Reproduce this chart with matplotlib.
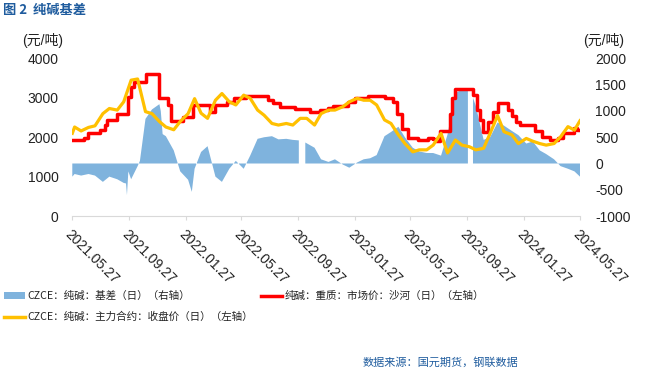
import numpy as np
import pandas as pd
import matplotlib
matplotlib.use("Agg")
import matplotlib.pyplot as plt
from matplotlib.patches import Patch
from matplotlib.lines import Line2D

plt.rcParams['font.family'] = ['Liberation Sans', 'Noto Sans CJK SC', 'DejaVu Sans']
plt.rcParams['axes.unicode_minus'] = False

nan = np.nan

# ---------------- data ----------------
grid_dates = (['2021-05-27'] +
              [d.strftime('%Y-%m-%d') for d in pd.date_range('2021-06-01', '2024-05-15', freq='SMS')] +
              ['2024-05-27'])

# CZCE soda ash main contract close (left axis)
futures_close = [2100, 2260, 2160, 2250, 2290, 2600, 2730, 2690, 2900, 3450, 3480, 2650, 2600, 2400, 2260,
                 2190, 2400, 2600, 2980, 2610, 2480, 2940, 3110, 2900, 2820, 3070, 2990, 2690, 2560, 2350,
                 2310, 2350, 2310, 2480, 2480, 2310, 2600, 2690, 2690, 2775, 2900, 2990, 2940, 2940, 2820,
                 2440, 2350, 2060, 1840, 1630, 1680, 1680, 1800, 2100, 1600, 1930, 1800, 1760, 1680, 1720,
                 2100, 2550, 2140, 2060, 1840, 1970, 1900, 1840, 1800, 1840, 2010, 2270, 2180, 2420]

# Heavy soda ash spot price, Shahe (left axis), step series
spot_dates = ['2021-05-27', '2021-06-22', '2021-06-29', '2021-07-25', '2021-08-05', '2021-08-10', '2021-09-01',
              '2021-09-25', '2021-10-01', '2021-10-08', '2021-11-02', '2021-12-01', '2021-12-20', '2021-12-27',
              '2022-01-21', '2022-02-12', '2022-03-20', '2022-03-31', '2022-04-25', '2022-05-10', '2022-06-07',
              '2022-07-24', '2022-08-04', '2022-08-18', '2022-09-20', '2022-10-22', '2022-11-13', '2022-12-01',
              '2022-12-11', '2023-01-12', '2023-01-27', '2023-02-25', '2023-04-02', '2023-04-20', '2023-04-27',
              '2023-05-08', '2023-05-22', '2023-06-13', '2023-07-04', '2023-07-15', '2023-07-22', '2023-07-29',
              '2023-08-20', '2023-08-24', '2023-08-31', '2023-10-10', '2023-10-17', '2023-10-24', '2023-10-31',
              '2023-11-11', '2023-11-22', '2023-12-03', '2023-12-24', '2024-01-01', '2024-01-10', '2024-01-18',
              '2024-02-20', '2024-03-05', '2024-03-23', '2024-04-10', '2024-04-21', '2024-05-13', '2024-05-20',
              '2024-05-27']
spot_price = [1930, 1990, 2120, 2180, 2310, 2440, 2580, 3030, 3280, 3410, 3600, 3000, 2820, 2410,
              2510, 2830, 2650, 2830, 2900, 2990, 3050, 2950, 2860, 2775, 2716, 2650, 2690, 2733,
              2800, 2900, 2990, 3040, 2990, 2900, 2600, 2200, 1970, 1930, 1990, 1950, 1900, 2160,
              2600, 3000, 3220, 3070, 2690, 2440, 2140, 2390, 2650, 2880, 2700, 2550, 2400, 2300,
              2160, 2010, 1930, 1990, 2115, 2240, 2180, 2180]

# Basis (right axis)
basis_dates = ['2021-05-27', '2021-06-01', '2021-06-15', '2021-07-01', '2021-07-15', '2021-08-01', '2021-08-15',
               '2021-09-01', '2021-09-15', '2021-09-20', '2021-09-22', '2021-09-25', '2021-10-01', '2021-10-15',
               '2021-10-20', '2021-11-01', '2021-11-15', '2021-12-01', '2021-12-04', '2021-12-08', '2021-12-15',
               '2022-01-01', '2022-01-15', '2022-02-01', '2022-02-09', '2022-02-15', '2022-03-01', '2022-03-15',
               '2022-04-01', '2022-04-15', '2022-05-01', '2022-05-15', '2022-06-01', '2022-06-15', '2022-07-01',
               '2022-07-15', '2022-08-01', '2022-08-15', '2022-09-01', '2022-09-15', '2022-09-28', '2022-10-05',
               '2022-10-12', '2022-11-01', '2022-11-15', '2022-12-01', '2022-12-15', '2023-01-01', '2023-01-15',
               '2023-02-01', '2023-02-15', '2023-03-01', '2023-03-15', '2023-04-01', '2023-04-15', '2023-05-01',
               '2023-05-15', '2023-06-01', '2023-06-15', '2023-07-01', '2023-07-15', '2023-08-01', '2023-08-15',
               '2023-09-01', '2023-09-15', '2023-09-28', '2023-10-03', '2023-10-09', '2023-10-15', '2023-11-01',
               '2023-11-15', '2023-12-01', '2023-12-15', '2024-01-01', '2024-01-15', '2024-02-01', '2024-02-15',
               '2024-03-01', '2024-03-15', '2024-04-01', '2024-04-15', '2024-05-01', '2024-05-15', '2024-05-27']
basis_vals = [-250, -200, -230, -200, -230, -350, -250, -300, -370, -380, -600, -150, -300, -50,
              50, 850, 1030, 1130, 1000, 560, 520, 250, -150, -310, -540, -100, 220, 330,
              -250, -350, -100, 50, -100, 150, 470, 500, 520, 460, 470, 450, 440, nan,
              400, 300, 80, 30, 80, -20, -80, 20, 80, 100, 160, 520, 600, 700,
              500, 300, 230, 200, 200, 150, 550, 1350, 1400, 1400, nan, 1250, 1100, 450,
              500, 780, 720, 620, 540, 380, 420, 250, 180, 80, -50, -100, -150, -250]

tick_dates = ['2021-05-27', '2021-09-27', '2022-01-27', '2022-05-27', '2022-09-27',
              '2023-01-27', '2023-05-27', '2023-09-27', '2024-01-27', '2024-05-27']
tick_labels = [d.replace('-', '.') for d in tick_dates]

left_ticks = [0, 1000, 2000, 3000, 4000]
right_ticks = [-1000, -500, 0, 500, 1000, 1500, 2000]

# ---------------- figure ----------------
W, H = 650, 372
fig = plt.figure(figsize=(W / 100, H / 100), dpi=100)
ax = fig.add_axes([72.3 / W, 1 - 216 / H, (580 - 72.3) / W, (216 - 58.5) / H])

bd = pd.to_datetime(basis_dates)
bv = np.array(basis_vals, dtype=float)
ax.fill_between(bd, 0, bv, color='#7FB3DD', linewidth=0, zorder=1)
ax.set_ylim(-1000, 2000)

ax2 = ax.twinx()
ax2.plot(pd.to_datetime(grid_dates), futures_close, color='#FFC000', lw=2.3, zorder=3)
ax2.step(pd.to_datetime(spot_dates), spot_price, where='post', color='#FF0000', lw=2.5, zorder=2)
ax2.set_ylim(0, 4000)

# axis positions (twinx flips parent to left; restore)
ax.yaxis.tick_right()
ax2.yaxis.tick_left()

ax.set_xlim(pd.Timestamp('2021-05-27'), pd.Timestamp('2024-05-27'))
ax.set_xticks(pd.to_datetime(tick_dates))
ax.set_xticklabels(tick_labels, rotation=-45, ha='left', va='top', rotation_mode='anchor', fontsize=10,
                   color='#222222')
ax.tick_params(axis='x', length=3, color='#D9D9D9', pad=5)

ax.set_yticks(right_ticks)
ax.set_yticklabels([str(v) for v in right_ticks], fontsize=10, color='#222222')
ax.tick_params(axis='y', length=0, pad=11)
ax2.set_yticks(left_ticks)
ax2.set_yticklabels([str(v) for v in left_ticks], fontsize=10, color='#222222')
ax2.tick_params(axis='y', length=0, pad=10)

for s in ['top', 'left', 'right']:
    ax.spines[s].set_visible(False)
ax.spines['bottom'].set_color('#D9D9D9')
for s in ax2.spines.values():
    s.set_visible(False)

# unit labels
fig.text(21.7 / W, 1 - 41 / H, '(元/吨)', fontsize=10, color='#222222', ha='left', va='center')
fig.text(583 / W, 1 - 41 / H, '(元/吨)', fontsize=10, color='#222222', ha='left', va='center')

# title & source
fig.text(3 / W, 1 - 10 / H, '图 2  纯碱基差', fontsize=9.5, color='#1F5C9E', ha='left', va='center',
         family=['Noto Sans CJK SC', 'DejaVu Sans'], weight='bold')
fig.text(518 / W, 1 - 362 / H, '数据来源：国元期货，钢联数据', fontsize=8, color='#1F5C9E', ha='right', va='center',
         family=['Noto Sans CJK SC', 'DejaVu Sans'])

# legend
handles = [Patch(facecolor='#7FB3DD', edgecolor='none'),
           Line2D([], [], color='#FFC000', lw=2.5),
           Line2D([], [], color='#FF0000', lw=2.5)]
labels = ['CZCE：纯碱：基差（日）（右轴）',
          'CZCE：纯碱：主力合约：收盘价（日）（左轴）',
          '纯碱：重质：市场价：沙河（日）（左轴）']
leg = fig.legend(handles, labels, loc='upper left', bbox_to_anchor=(2 / W, 1 - 289 / H), ncol=2, frameon=False,
                 prop={'family': ['Noto Sans CJK SC', 'DejaVu Sans'], 'size': 7.6},
                 handlelength=2.0, handleheight=0.65, handletextpad=0.2, columnspacing=0.75,
                 labelspacing=1.0, borderaxespad=0, borderpad=0.2)
for t in leg.get_texts():
    t.set_color('#222222')

fig.savefig('out.png', dpi=100)
